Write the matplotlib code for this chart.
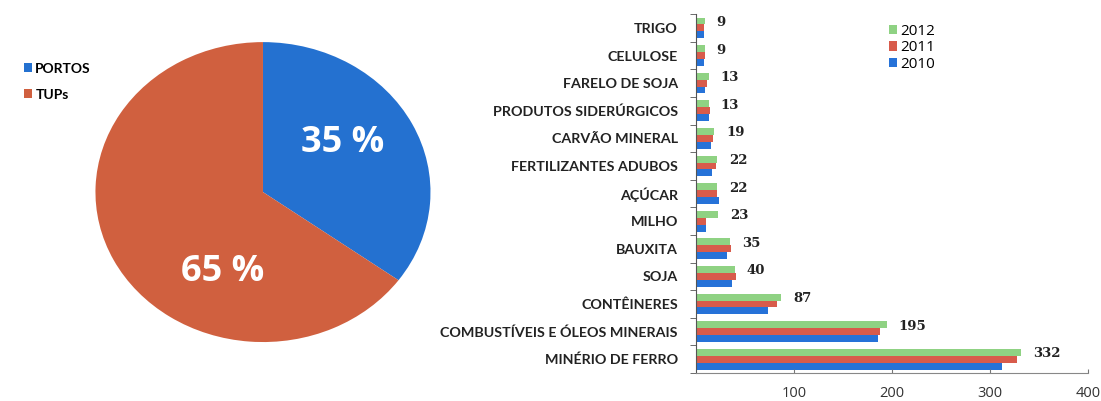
import numpy as np
import matplotlib
matplotlib.use('Agg')
import matplotlib.pyplot as plt
from matplotlib.ticker import FixedLocator

# pie data
pie_labels = ['PORTOS', 'TUPs']
pie_share = [35, 65]

# bar data (top to bottom as in the picture)
cargas = ['TRIGO', 'CELULOSE', 'FARELO DE SOJA', 'PRODUTOS SIDERÚRGICOS',
          'CARVÃO MINERAL', 'FERTILIZANTES ADUBOS', 'AÇÚCAR', 'MILHO',
          'BAUXITA', 'SOJA', 'CONTÊINERES', 'COMBUSTÍVEIS E ÓLEOS MINERAIS',
          'MINÉRIO DE FERRO']
v2012 = [9, 9, 13, 13, 19, 22, 22, 23, 35, 40, 87, 195, 332]
v2011 = [8, 9, 11, 14, 18, 21, 22, 10, 36, 41, 83, 188, 328]
v2010 = [8, 8, 9, 13, 15, 16, 24, 10, 32, 37, 74, 186, 312]
anos = ['2012', '2011', '2010']

c_green = '#8fd283'
c_red = '#d85b4b'
c_blue = '#2672d8'
pie_colors = ['#2471d0', '#d0603f']

fig = plt.figure(figsize=(11.01, 4.01), dpi=100)
fig.patch.set_facecolor('white')

# ---- pie ----
axp = fig.add_axes([0.0867, 0.147, 0.3043, 0.748])
wedges, _ = axp.pie(pie_share, colors=pie_colors, startangle=90, counterclock=False,
                    radius=1.0, wedgeprops=dict(linewidth=0))
axp.set_aspect('auto')
axp.set_xlim(-1, 1)
axp.set_ylim(-1, 1)
axp.axis('off')
axp.text(0.478, 0.33, '%d %%' % pie_share[0], color='white', fontsize=26,
         fontweight='bold', family='Open Sans', ha='center', va='center')
axp.text(-0.24, -0.53, '%d %%' % pie_share[1], color='white', fontsize=26,
         fontweight='bold', family='Open Sans', ha='center', va='center')

fig.legend(wedges, pie_labels, loc='upper left', bbox_to_anchor=(0.010, 0.875),
           frameon=False, prop=dict(family='Lato', weight='bold', size=10),
           handlelength=0.6, handleheight=0.6, handletextpad=0.25, labelspacing=1.0)

# ---- bars ----
ax = fig.add_axes([0.632, 0.0698, 0.356, 0.895])
n = len(cargas)
y = np.arange(n)[::-1]
h = 0.25
b1 = ax.barh(y + h, v2012, height=h, color=c_green, label=anos[0])
b2 = ax.barh(y, v2011, height=h, color=c_red, label=anos[1])
b3 = ax.barh(y - h, v2010, height=h, color=c_blue, label=anos[2])

for yy, v in zip(y, v2012):
    ax.annotate(str(v), (v, yy + h * 0.8), xytext=(8.5, 0), textcoords='offset points',
                ha='left', va='center', fontsize=9.5, fontweight='bold',
                family='DejaVu Serif', color='#222222')

ax.set_ylim(-0.5, n - 0.5)
ax.set_xlim(0, 400)
ax.set_yticks(y)
ax.set_yticklabels(cargas, family='Lato', fontweight='bold', fontsize=10.3, color='#222222')
ax.tick_params(axis='y', which='major', length=0, pad=13)
ax.yaxis.set_minor_locator(FixedLocator(np.arange(-0.5, n, 1.0)))
ax.tick_params(axis='y', which='minor', length=4, direction='out', color='#555555')

ax.set_xticks([100, 200, 300, 400])
ax.set_xticklabels(['100', '200', '300', '400'], family='Open Sans', fontsize=10.5, color='#333333')
ax.tick_params(axis='x', length=3, direction='in', color='#777777', pad=9)

for s in ['top', 'right']:
    ax.spines[s].set_visible(False)
ax.spines['left'].set_color('#555555')
ax.spines['bottom'].set_color('#888888')

fig.legend([b1, b2, b3], anos, loc='upper left', bbox_to_anchor=(0.795, 0.975),
           frameon=False, prop=dict(family='Open Sans', size=11),
           handlelength=0.55, handleheight=0.55, handletextpad=0.2, labelspacing=0.1)

plt.savefig('out.png', dpi=100, facecolor='white')
